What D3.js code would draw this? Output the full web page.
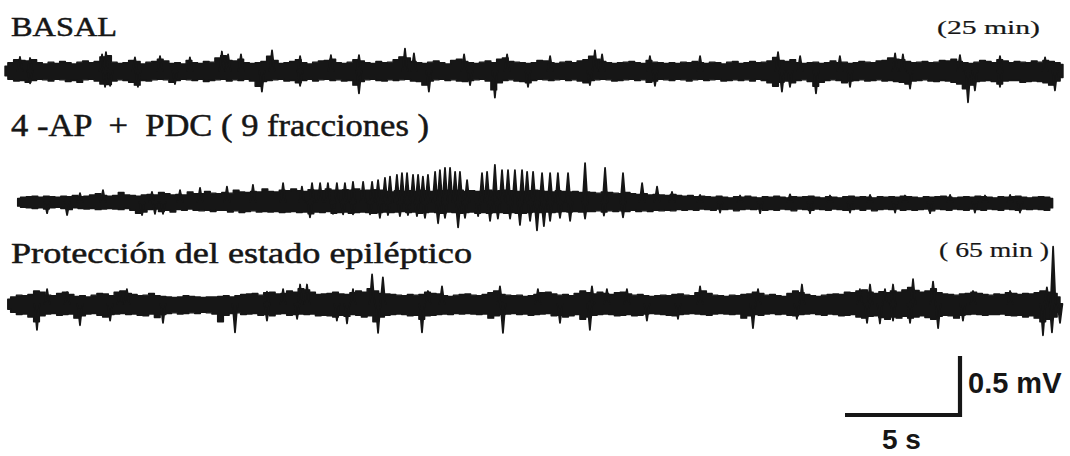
<!DOCTYPE html>
<html>
<head>
<meta charset="utf-8">
<script src="https://cdn.jsdelivr.net/npm/d3@7"></script>
<style>
  html, body { margin: 0; padding: 0; background: #fff; }
  svg { display: block; }
</style>
</head>
<body>
<svg id="chart" width="1070" height="456"></svg>
<script>
// EEG recordings: amplitude in µV, time in s.
// Envelope of the ongoing activity (upper / lower bound), sampled every 0.25 s from tStart to tEnd.
// Spikes: [time s, peak µV], positive = upward, negative = downward.

// ---- BASAL (25 min) ----
const basalStart = 0, basalEnd = 46;
const basalHi = [
  40,70,95,90, 85,95,70,60, 75,65,80,70, 60,75,85,70, 80,120,130,75, 65,70,90,80, 60,75,80,100, 85,65,70,60,
  90,70,65,80, 75,110,130,90, 85,100,70,65, 70,80,125,90, 65,70,80,95, 70,60,75,85, 90,100,70,65, 75,95,85,70,
  65,80,70,75, 95,120,110,80, 70,65,75,85, 70,60,90,100, 80,70,65,75, 85,70,100,110, 80,75,70,65, 70,90,85,70,
  65,75,80,70, 85,95,125,100, 80,70,65,70, 75,80,70,65, 90,75,70,65, 70,65,75,70, 80,70,65,75, 70,60,75,80,
  65,70,80,70, 75,85,115,90, 80,95,70,65, 70,75,65,70, 85,70,75,65, 70,80,75,70, 85,90,110,100, 95,80,70,75,
  80,70,75,90, 85,100,80,70, 65,75,90,80, 70,95,85,70, 80,75,70,85, 75,90,80,70, 55];
const basalLo = [
  -40,-70,-85,-80, -95,-80,-70,-75, -85,-70,-75,-90, -80,-95,-75,-70, -85,-110,-115,-85, -75,-80,-95,-120, -80,-85,-75,-70, -75,-95,-80,-70,
  -75,-80,-70,-90, -80,-75,-70,-85, -75,-80,-70,-85, -130,-90,-80,-75, -70,-85,-80,-100, -80,-70,-85,-75, -70,-80,-75,-85, -80,-120,-90,-75,
  -70,-80,-85,-75, -80,-75,-70,-85, -90,-120,-85,-75, -70,-80,-75,-85, -90,-80,-75,-70, -85,-160,-100,-80, -75,-85,-90,-100, -80,-70,-75,-80,
  -75,-70,-80,-75, -85,-100,-80,-75, -70,-75,-85,-80, -75,-70,-80,-75, -95,-85,-70,-75, -80,-70,-75,-85, -75,-70,-80,-75, -70,-85,-80,-75,
  -80,-75,-85,-70, -80,-100,-130,-95, -85,-100,-80,-75, -90,-130,-95,-80, -75,-80,-100,-85, -80,-75,-85,-80, -75,-85,-80,-90, -95,-110,-85,-80,
  -75,-85,-90,-80, -85,-95,-110,-150, -120,-90,-85,-80, -90,-110,-85,-80, -80,-95,-90,-85, -90,-100,-120,-85, -55];
const basalUp = [[0.65,120],[1.09,110],[4.22,140],[4.39,160],[5.65,115],[6.74,125],[8.04,115],[9.43,165],[9.7,140],[10.26,140],[11.61,175],[12.83,125],[14.17,135],[15.39,135],[17.39,190],[17.78,150],[19.96,140],[21.83,140],[23.7,125],[25.65,175],[25.96,140],[28.04,125],[30.22,125],[33.61,160],[34.57,125],[36.3,125],[38.7,150],[39.04,140],[41.52,135],[43.26,125],[45.22,115]];
const basalDown = [[1.09,-105],[4.35,-135],[4.57,-125],[5.78,-135],[7.39,-110],[11.17,-175],[12.83,-125],[15.39,-190],[18.43,-175],[20.22,-120],[21.3,-225],[22.74,-135],[25.43,-120],[28.26,-125],[33.78,-175],[34.13,-135],[35.26,-190],[36.74,-135],[39.35,-150],[41.87,-265],[42.17,-165],[43.26,-135],[45.65,-165]];

// ---- 4-AP + PDC (9 fracciones) ----
const apStart = 0.55, apEnd = 45.55;
const apHi = [
  30,40,45,50, 40,50,45,40, 50,45,55,45, 50,60,70,55, 50,55,80,60, 55,50,60,65, 60,80,70,60, 65,60,85,70,
  70,90,75,70, 80,75,100,85, 80,90,85,110, 90,85,100,95, 110,95,90,105, 100,95,110,100, 100,105,100,110, 95,100,105,100,
  90,85,95,90, 95,90,100,95, 90,100,95,100, 95,100,90,95, 90,95,100,90, 95,100,95,90, 90,95,100,95, 90,85,95,90,
  85,90,80,85, 80,75,85,80, 75,70,80,70, 65,70,60,65, 60,55,65,55, 50,55,45,50, 45,40,50,40, 35,45,40,50,
  40,35,45,40, 50,40,35,45, 40,45,50,40, 35,45,40,35, 45,50,40,45, 40,35,45,40, 45,40,50,45, 40,35,45,40,
  45,50,40,35, 40,45,40,50, 45,40,35,45, 40,45,50,40, 35,40,45,40, 30];
const apLo = [
  -35,-45,-50,-55, -50,-60,-50,-45, -55,-65,-50,-55, -60,-55,-65,-60, -55,-60,-65,-55, -70,-95,-85,-65, -60,-80,-70,-85, -65,-70,-60,-70,
  -75,-70,-80,-70, -70,-85,-75,-90, -80,-75,-85,-80, -85,-80,-90,-85, -80,-90,-85,-100, -85,-90,-80,-95, -90,-85,-95,-90, -85,-90,-95,-90,
  -85,-90,-85,-80, -90,-85,-95,-90, -85,-90,-95,-85, -90,-95,-90,-85, -95,-90,-95,-90, -90,-95,-90,-95, -95,-90,-85,-90, -85,-90,-85,-80,
  -85,-80,-85,-80, -80,-75,-85,-75, -80,-75,-80,-70, -80,-75,-80,-70, -75,-70,-75,-65, -70,-65,-70,-60, -65,-70,-60,-65, -60,-75,-65,-60,
  -65,-60,-70,-65, -70,-60,-65,-75, -60,-65,-70,-60, -65,-70,-60,-65, -70,-65,-60,-70, -60,-75,-65,-60, -65,-60,-70,-65, -70,-65,-60,-75,
  -60,-65,-70,-60, -65,-70,-60,-65, -70,-60,-65,-70, -60,-65,-70,-60, -65,-60,-65,-70, -50];
const apUp = [[3.26,75],[4.26,100],[6.39,85],[7.61,100],[8.48,120],[9.65,130],[10.78,145],[12.09,160],[12.91,130],[13.35,160],[13.7,160],[14.04,160],[14.43,160],[14.78,160],[15.13,170],[15.57,170],[15.96,170],[16.22,185],[16.52,205],[16.74,215],[17.04,230],[17.26,245],[17.48,245],[17.74,230],[17.96,230],[18.17,215],[18.39,230],[18.7,255],[18.91,270],[19.13,290],[19.35,290],[19.57,255],[19.78,255],[20.09,185],[20.74,245],[20.96,255],[21.3,315],[21.61,270],[21.87,270],[22.17,270],[22.48,270],[22.7,255],[22.96,255],[23.35,245],[23.7,245],[24.04,245],[24.48,245],[25.22,330],[26.09,290],[26.87,245],[27.7,160],[28.35,130],[29.0,85],[30.22,60],[31.96,55],[34.13,65],[35.87,55],[37.61,60],[39.13,55],[41.09,60],[42.61,55],[43.7,60]];
const apDown = [[1.83,-95],[2.7,-110],[5.96,-110],[6.52,-100],[6.87,-100],[13.26,-130],[14.26,-100],[14.7,-105],[15.13,-105],[15.87,-105],[16.3,-135],[16.65,-110],[17.17,-120],[17.52,-110],[17.91,-120],[18.26,-135],[18.83,-180],[19.13,-135],[19.7,-215],[20.0,-135],[20.57,-120],[21.09,-160],[21.43,-140],[21.96,-140],[22.39,-195],[22.83,-160],[23.13,-240],[23.43,-205],[23.7,-160],[24.13,-135],[24.57,-160],[25.22,-140],[26.04,-115],[26.87,-130],[31.09,-90],[32.83,-95],[35.0,-95],[36.74,-90],[38.7,-90],[40.22,-95],[42.17,-90],[44.13,-90]];

// ---- Protección del estado epiléptico (65 min) ----
const protStart = 0.12, protEnd = 45.87;
const protHi = [
  40,60,75,70, 80,110,100,75, 70,90,100,80, 65,70,60,75, 90,85,70,100, 110,90,80,70, 75,90,70,65, 60,55,60,70,
  65,60,55,60, 60,65,70,60, 70,80,85,90, 75,95,100,85, 90,110,100,130, 120,100,80,85, 90,100,85,80, 95,110,100,130,
  110,90,85,80, 75,70,80,75, 80,100,90,85, 70,65,75,80, 85,75,70,80, 95,110,80,75, 70,75,65,70, 80,95,100,85,
  75,80,70,90, 110,95,85,100, 90,80,95,100, 85,75,80,70, 65,70,75,70, 80,85,75,70, 95,110,90,75, 70,65,75,70,
  80,85,100,90, 75,80,70,65, 90,110,95,80, 70,65,75,80, 85,80,100,95, 110,120,100,90, 105,95,110,100, 120,140,115,100,
  110,130,95,85, 80,75,85,90, 100,90,80,75, 85,80,95,90, 80,90,85,95, 110,100,90,60];
const protLo = [
  -45,-70,-90,-85, -110,-150,-100,-85, -80,-95,-90,-85, -120,-100,-85,-80, -95,-110,-90,-85, -80,-90,-85,-95, -100,-85,-115,-90, -80,-75,-85,-80,
  -75,-80,-70,-75, -85,-150,-95,-80, -75,-90,-85,-80, -95,-90,-100,-85, -80,-95,-90,-85, -90,-85,-100,-95, -100,-110,-95,-105, -90,-95,-110,-100,
  -150,-110,-95,-90, -85,-90,-100,-95, -130,-100,-95,-90, -85,-90,-80,-85, -80,-85,-90,-85, -120,-100,-90,-85, -80,-90,-85,-95, -90,-85,-80,-100,
  -95,-110,-100,-90, -130,-110,-95,-90, -85,-90,-100,-95, -90,-100,-95,-85, -80,-85,-90,-95, -100,-90,-85,-80, -85,-90,-95,-85, -80,-85,-90,-85,
  -120,-100,-90,-95, -85,-80,-90,-85, -95,-100,-90,-85, -80,-90,-95,-85, -90,-100,-95,-90, -110,-120,-105,-100, -115,-130,-110,-120, -105,-120,-110,-100,
  -115,-130,-105,-95, -100,-120,-95,-90, -85,-90,-95,-90, -90,-85,-95,-100, -95,-110,-100,-120, -150,-130,-110,-70];
const protUp = [[1.83,125],[2.7,100],[5.0,105],[5.3,125],[11.39,105],[12.09,125],[12.83,165],[13.13,165],[15.13,125],[15.96,250],[16.43,225],[18.39,110],[19.0,150],[21.52,150],[23.17,125],[25.52,150],[26.17,125],[27.04,125],[30.22,150],[32.74,125],[34.65,165],[37.17,125],[37.61,165],[38.26,125],[38.61,165],[39.48,210],[40.35,190],[42.09,110],[43.7,110],[45.3,140],[45.57,485]];
const protDown = [[1.39,-220],[3.26,-180],[4.57,-140],[6.87,-160],[10.0,-240],[11.39,-140],[12.7,-125],[14.43,-140],[14.87,-165],[16.22,-245],[18.13,-240],[21.65,-245],[24.13,-160],[25.43,-220],[27.91,-140],[29.26,-125],[32.52,-205],[34.43,-125],[37.48,-160],[38.04,-165],[38.61,-140],[39.35,-160],[40.57,-205],[41.65,-140],[45.13,-265],[45.52,-240],[45.87,-160]];

// Calibration bar
const barSeconds = 5;
const barMillivolts = 0.5;

// ---------------- drawing ----------------
const ink = "#161616";
const svg = d3.select("#chart");

const pxPerSecond = 23;
const pxPerMillivolt = 118;
const x = d3.scaleLinear().domain([0, 1]).range([5, 5 + pxPerSecond]);

const traces = [
  { t0: basalStart, t1: basalEnd, hi: basalHi, lo: basalLo, up: basalUp, down: basalDown, baseline: 71 },
  { t0: apStart, t1: apEnd, hi: apHi, lo: apLo, up: apUp, down: apDown, baseline: 202 },
  { t0: protStart, t1: protEnd, hi: protHi, lo: protLo, up: protUp, down: protDown, baseline: 304 }
];

traces.forEach(tr => {
  const y = d3.scaleLinear().domain([-1000, 1000])
    .range([tr.baseline + pxPerMillivolt, tr.baseline - pxPerMillivolt]);
  const n = tr.hi.length;
  const step = (tr.t1 - tr.t0) / (n - 1);
  const env = tr.hi.map((h, i) => ({ t: tr.t0 + i * step, hi: h, lo: tr.lo[i] }));

  const g = svg.append("g");
  g.append("path")
    .datum(env)
    .attr("d", d3.area().curve(d3.curveStep).x(d => x(d.t)).y0(d => y(d.lo)).y1(d => y(d.hi)))
    .attr("fill", ink)
    .attr("stroke", ink)
    .attr("stroke-width", 1.4)
    .attr("stroke-linejoin", "round");

  const spikes = tr.up.concat(tr.down);
  g.selectAll("path.spike")
    .data(spikes)
    .join("path")
    .attr("class", "spike")
    .attr("d", d => {
      const cx = x(d[0]);
      return `M${cx - 2.4},${y(0)}L${cx},${y(d[1])}L${cx + 2.4},${y(0)}Z`;
    })
    .attr("fill", ink)
    .attr("stroke", ink)
    .attr("stroke-width", 1.8)
    .attr("stroke-linejoin", "round");
});

// ---------------- labels ----------------
const serif = "'Liberation Serif', 'Times New Roman', serif";
const sans = "'Liberation Sans', Arial, sans-serif";

const labels = [
  { text: "BASAL", x: 11, y: 36, size: 28, len: 106, w: 0.5 },
  { text: "(25 min)", x: 937, y: 34, size: 19, len: 103, w: 0.2 },
  { text: "4 -AP  +  PDC ( 9 fracciones )", x: 11, y: 136, size: 31, len: 418, w: 0.5 },
  { text: "Protección del estado epiléptico", x: 11, y: 263, size: 30, len: 461, w: 0.5 },
  { text: "( 65 min )", x: 939, y: 257, size: 21, len: 110, w: 0.2 }
];
svg.selectAll("text.title")
  .data(labels)
  .join("text")
  .attr("class", "title")
  .attr("x", d => d.x)
  .attr("y", d => d.y)
  .attr("font-family", serif)
  .attr("font-size", d => d.size)
  .attr("fill", ink)
  .attr("stroke", ink)
  .attr("stroke-width", d => d.w)
  .attr("textLength", d => d.len)
  .attr("lengthAdjust", "spacingAndGlyphs")
  .style("white-space", "pre")
  .text(d => d.text);

// ---------------- calibration bar ----------------
const barRight = 960, barBottom = 415;
const barW = x(barSeconds) - x(0);
const barH = barMillivolts * pxPerMillivolt;
svg.append("path")
  .attr("d", `M${barRight - barW},${barBottom}H${barRight}V${barBottom - barH}`)
  .attr("fill", "none")
  .attr("stroke", ink)
  .attr("stroke-width", 4.2)
  .attr("stroke-linejoin", "miter");

svg.append("text")
  .attr("x", 968).attr("y", 393)
  .attr("font-family", sans).attr("font-weight", "bold")
  .attr("font-size", 29).attr("fill", ink)
  .text(`${barMillivolts} mV`);

svg.append("text")
  .attr("x", 882).attr("y", 449)
  .attr("font-family", sans).attr("font-weight", "bold")
  .attr("font-size", 28).attr("fill", ink)
  .text(`${barSeconds} s`);
</script>
</body>
</html>
